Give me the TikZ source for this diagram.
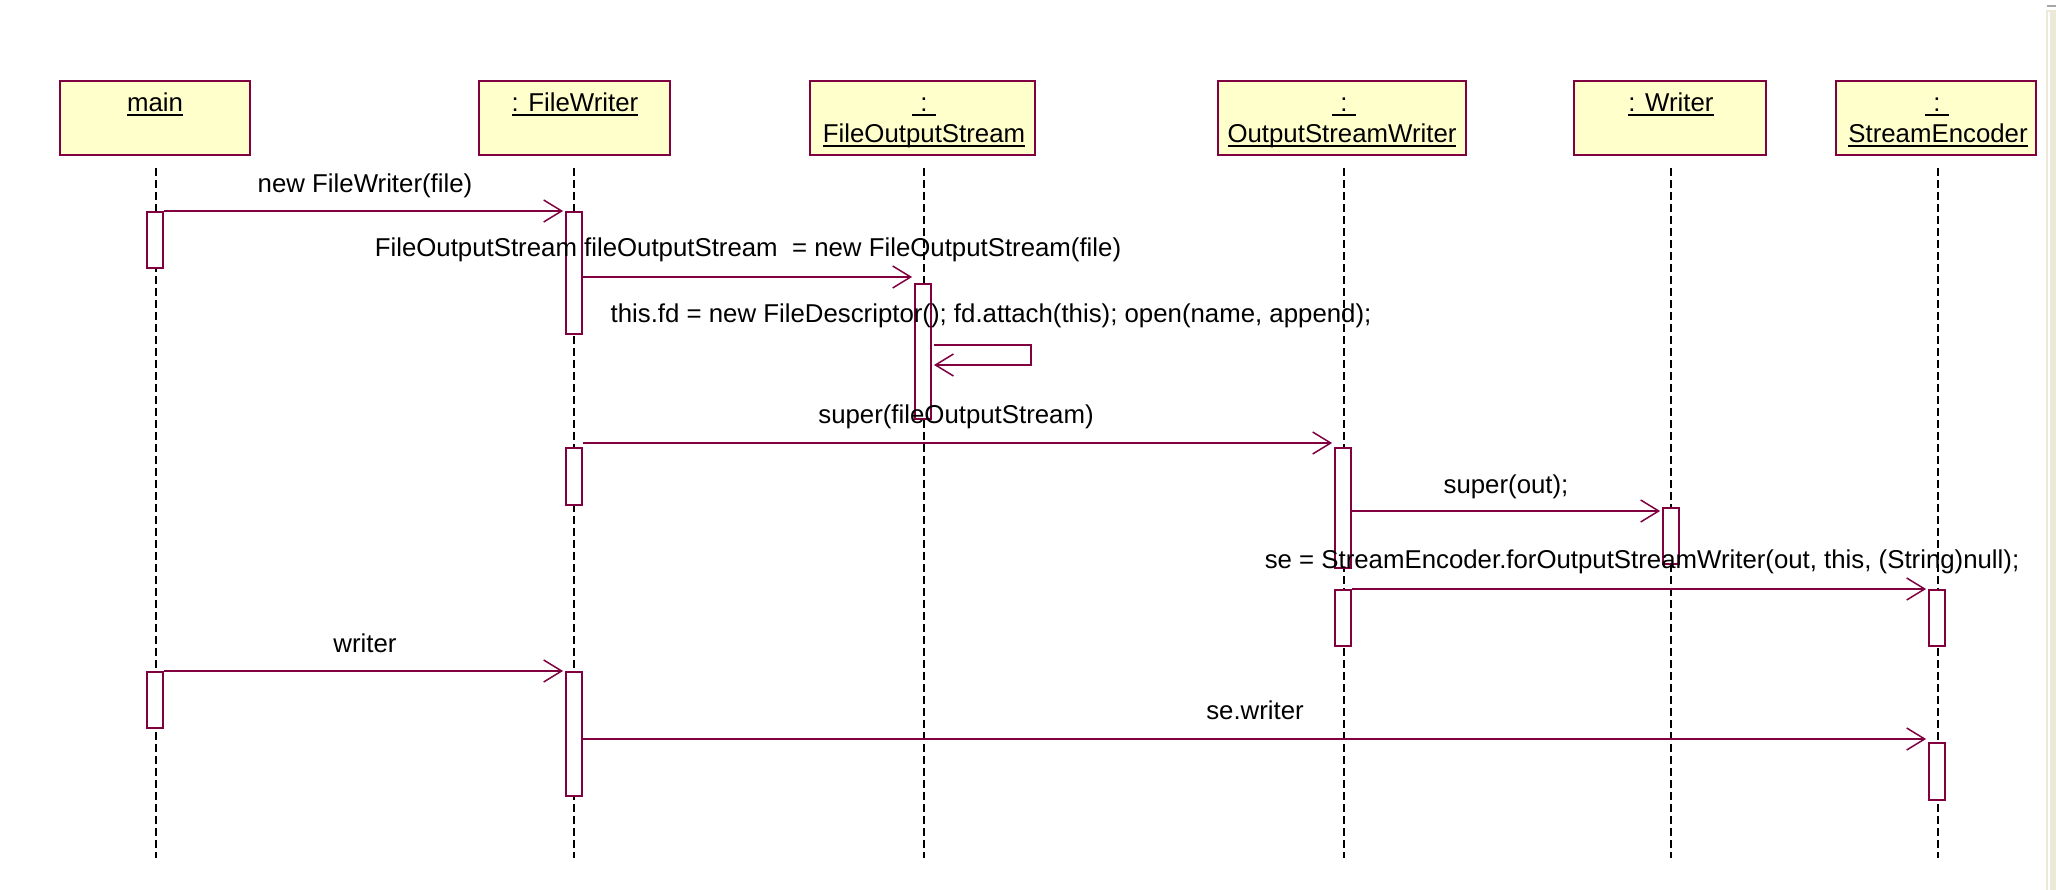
\documentclass[tikz,border=0pt]{standalone}
\usepackage{fontspec}
\setmainfont{Liberation Sans}
\usetikzlibrary{arrows.meta}
\definecolor{maroon}{RGB}{128,0,64}
\definecolor{objfill}{RGB}{255,255,204}
\definecolor{sbar}{RGB}{236,233,216}
\newcommand{\ulx}[1]{\setbox0\hbox{#1}\rlap{\vrule width \wd0 height -2.5pt depth 4.5pt}\box0}
\tikzset{
  obj/.style={draw=maroon, fill=objfill, line width=2.5pt, rectangle, inner sep=0pt},
  hdr/.style={anchor=base, inner sep=0pt, font=\fontsize{25.8}{30}\selectfont},
  life/.style={draw=black, line width=2pt, dash pattern=on 8pt off 4pt},
  act/.style={draw=maroon, fill=white, line width=1.8pt, minimum width=16pt, inner sep=0pt, rectangle, anchor=north},
  msg/.style={draw=maroon, line width=2.2pt, shorten >=2pt, -{Straight Barb[length=18pt,width=22pt,line width=1.5pt]}},
  lbl/.style={anchor=base, inner sep=0pt, font=\fontsize{25.8}{30}\selectfont},
}
\begin{document}
\begin{tikzpicture}[x=1pt,y=-1pt]
\useasboundingbox (0,0) rectangle (2056,890);
\fill[white] (0,0) rectangle (2056,890);
% scrollbar edge
\fill[sbar] (2046,10) rectangle (2056,890);
\draw[white, line width=2pt] (2049,12) -- (2049,890);
\fill[gray!70] (2047,5) rectangle (2056,7);

% object boxes
\node[obj, minimum width=190pt, minimum height=74pt] (main) at (155,118) {};
\node[obj, minimum width=191pt, minimum height=74pt] (fw) at (574.5,118) {};
\node[obj, minimum width=225pt, minimum height=74pt] (fos) at (922.5,118) {};
\node[obj, minimum width=248pt, minimum height=74pt] (osw) at (1342,118) {};
\node[obj, minimum width=192pt, minimum height=74pt] (wr) at (1670,118) {};
\node[obj, minimum width=200pt, minimum height=74pt] (se) at (1936,118) {};

\node[hdr] (tmain) at (155,112) {\ulx{main}};
\node[hdr] (tfw) at (575,112) {\ulx{: FileWriter}};
\node[hdr] (tfosa) at (924,112) {\ulx{\hbox to 24pt{\hss:\hss}}};
\node[hdr] (tfosb) at (924,143) {\ulx{FileOutputStream}};
\node[hdr] (toswa) at (1344,112) {\ulx{\hbox to 24pt{\hss:\hss}}};
\node[hdr] (toswb) at (1342,143) {\ulx{OutputStreamWriter}};
\node[hdr] (twr) at (1671,112) {\ulx{: Writer}};
\node[hdr] (tsea) at (1937,112) {\ulx{\hbox to 24pt{\hss:\hss}}};
\node[hdr] (tseb) at (1938,143) {\ulx{StreamEncoder}};

% lifelines
\coordinate (Lm0) at (156,168);  \coordinate (Lm1) at (156,858);
\coordinate (Lf0) at (574,168);  \coordinate (Lf1) at (574,858);
\coordinate (Lo0) at (924,168);  \coordinate (Lo1) at (924,858);
\coordinate (Lw0) at (1344,168); \coordinate (Lw1) at (1344,858);
\coordinate (Lr0) at (1671,168); \coordinate (Lr1) at (1671,858);
\coordinate (Ls0) at (1938,168); \coordinate (Ls1) at (1938,858);
\draw[life] (Lm0) -- (Lm1);
\draw[life] (Lf0) -- (Lf1);
\draw[life] (Lo0) -- (Lo1);
\draw[life] (Lw0) -- (Lw1);
\draw[life] (Lr0) -- (Lr1);
\draw[life] (Ls0) -- (Ls1);

% activations
\node[act, minimum height=56pt]  (mA1) at (155,211) {};
\node[act, minimum height=122pt] (fA1) at (574,211) {};
\node[act, minimum height=135pt] (oA1) at (923,283) {};
\node[act, minimum height=57pt]  (fA2) at (574,447) {};
\node[act, minimum height=120pt] (wsA1) at (1343,447) {};
\node[act, minimum height=56pt]  (wA1) at (1671,507) {};
\node[act, minimum height=56pt]  (wsA2) at (1343,589) {};
\node[act, minimum height=56pt]  (sA1) at (1937,589) {};
\node[act, minimum height=56pt]  (mA2) at (155,671) {};
\node[act, minimum height=124pt] (fA3) at (574,671) {};
\node[act, minimum height=57pt]  (sA2) at (1937,742) {};

% messages
\draw[msg] (mA1.north east) -- (fA1.north west);
\draw[msg] (fA1.east |- 0,277) -- (oA1.west |- 0,277);
\coordinate (s1) at (934,345);
\coordinate (s2) at (1031,345);
\coordinate (s3) at (1031,365);
\coordinate (s4) at (934,365);
\draw[msg, shorten >=0pt] (s1) -- (s2) -- (s3) -- (s4);
\draw[msg] (fA2.east |- 0,443) -- (wsA1.west |- 0,443);
\draw[msg] (wsA1.east |- 0,511) -- (wA1.west |- 0,511);
\draw[msg] (wsA2.north east) -- (sA1.north west);
\draw[msg] (mA2.north east) -- (fA3.north west);
\draw[msg] (fA3.east |- 0,739) -- (sA2.west |- 0,739);

% labels
\node[lbl] (l1) at (365,193) {new FileWriter(file)};
\node[lbl] (l2) at (748,257) {FileOutputStream fileOutputStream\ \ = new FileOutputStream(file)};
\node[lbl] (l3) at (991,323) {this.fd = new FileDescriptor(); fd.attach(this); open(name, append);};
\node[lbl] (l4) at (956,424) {super(fileOutputStream)};
\node[lbl] (l5) at (1506,493) {super(out);};
\node[lbl] (l6) at (1642,568) {se = StreamEncoder.forOutputStreamWriter(out, this, (String)null);};
\node[lbl] (l7) at (365,652) {writer};
\node[lbl] (l8) at (1255,719) {se.writer};
\end{tikzpicture}
\end{document}
